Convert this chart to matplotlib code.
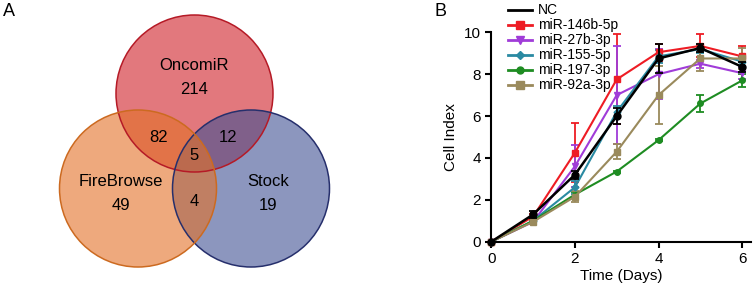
import numpy as np
import matplotlib.pyplot as plt
from matplotlib.patches import Circle
from matplotlib.lines import Line2D

plt.rcParams['font.family'] = ['Liberation Sans', 'DejaVu Sans']

# ---- Venn data (panel A) ----
set_names = ["OncomiR", "FireBrowse", "Stock"]
only_counts = [214, 49, 19]
pair_counts = {"onco_fire": 82, "onco_stock": 12, "fire_stock": 4}
triple_count = 5

# ---- growth curve data (panel B) ----
days = [0, 1, 2, 3, 4, 5, 6]
series_names = ["NC", "miR-146b-5p", "miR-27b-3p", "miR-155-5p", "miR-197-3p", "miR-92a-3p"]
nc_mean = [0, 1.3, 3.2, 6.0, 8.75, 9.25, 8.35]
nc_err = [0, 0.15, 0.2, 0.4, 0.7, 0.2, 0.25]
m146_mean = [0, 1.2, 4.25, 7.75, 9.05, 9.35, 8.85]
m146_err = [0, 0.1, 1.4, 2.15, 0.4, 0.55, 0.5]
m27_mean = [0, 0.95, 3.6, 7.0, 8.0, 8.5, 8.05]
m27_err = [0, 0.1, 1.0, 2.35, 1.2, 0.2, 0.3]
m155_mean = [0, 1.0, 2.6, 6.2, 8.85, 9.2, 8.6]
m155_err = [0, 0.1, 0.3, 0.3, 0.3, 0.2, 0.2]
m197_mean = [0, 1.0, 2.25, 3.35, 4.85, 6.6, 7.7]
m197_err = [0, 0.05, 0.1, 0.05, 0.05, 0.4, 0.3]
m92_mean = [0, 0.95, 2.15, 4.3, 7.0, 8.75, 8.75]
m92_err = [0, 0.05, 0.25, 0.35, 1.4, 0.6, 0.5]

fig = plt.figure(figsize=(7.56, 2.91), dpi=100)

# ============================
# Panel A: Venn
# ============================
ax_v = fig.add_axes([0, 0, 380 / 756, 1])
ax_v.set_xlim(0, 380)
ax_v.set_ylim(291, 0)
ax_v.axis("off")

# draw order red -> blue -> orange gives the overlap tints of the original
circles = [
    ((194.5, 93.5), "#cf1e26", "#b51a26"),
    ((251, 188.5), "#3f5093", "#262f6c"),
    ((138, 188.5), "#e37126", "#cc6a20"),
]
for (cx, cy), fc, ec in circles:
    ax_v.add_patch(Circle((cx, cy), 78.5, facecolor=fc, alpha=0.6, edgecolor="none"))
for (cx, cy), fc, ec in circles:
    ax_v.add_patch(Circle((cx, cy), 78.5, facecolor="none", edgecolor=ec, lw=1.1))

fs = 12
ax_v.text(194, 66, set_names[0], ha="center", va="center", fontsize=fs)
ax_v.text(194, 90, str(only_counts[0]), ha="center", va="center", fontsize=fs)
ax_v.text(121, 181, set_names[1], ha="center", va="center", fontsize=fs)
ax_v.text(121, 206, str(only_counts[1]), ha="center", va="center", fontsize=fs)
ax_v.text(268, 181, set_names[2], ha="center", va="center", fontsize=fs)
ax_v.text(268, 206, str(only_counts[2]), ha="center", va="center", fontsize=fs)
ax_v.text(159, 138, str(pair_counts["onco_fire"]), ha="center", va="center", fontsize=fs)
ax_v.text(228, 138, str(pair_counts["onco_stock"]), ha="center", va="center", fontsize=fs)
ax_v.text(194, 201, str(pair_counts["fire_stock"]), ha="center", va="center", fontsize=fs)
ax_v.text(194, 156, str(triple_count), ha="center", va="center", fontsize=fs)
fig.text(3 / 756, 1 - 12 / 291, "A", fontsize=13, va="center")

# ============================
# Panel B: growth curves
# ============================
ax = fig.add_axes([491.3 / 756, 1 - 241.7 / 291, 259.2 / 756, 209.4 / 291])

styles = [
    (m146_mean, m146_err, "#ee1c24", "s", 5),
    (m27_mean, m27_err, "#a03cd8", "v", 5),
    (m155_mean, m155_err, "#2a8aa2", "D", 3.5),
    (m197_mean, m197_err, "#1e8c22", "o", 4),
    (m92_mean, m92_err, "#9a8a5c", "s", 5),
]
handles = [Line2D([0], [0], color="black", lw=2)]
for mean, err, c, mk, ms in styles:
    ax.errorbar(days, mean, yerr=err, color=c, marker=mk, ms=ms, lw=1.5,
                capsize=3, elinewidth=1.3, capthick=1.3, clip_on=False)
    handles.append(Line2D([0], [0], color=c, marker=mk, ms=ms + 1, lw=2))
ax.errorbar(days, nc_mean, yerr=nc_err, color="black", marker="o", ms=5, lw=1.8,
            capsize=3, elinewidth=1.3, capthick=1.3, clip_on=False, zorder=5)

ax.set_xlim(0, 6.2)
ax.set_ylim(0, 10)
ax.set_xticks([0, 2, 4, 6])
ax.set_yticks([0, 2, 4, 6, 8, 10])
ax.spines["top"].set_visible(False)
ax.spines["right"].set_visible(False)
for s in ["left", "bottom"]:
    ax.spines[s].set_linewidth(1.5)
ax.tick_params(width=1.5, length=4, labelsize=11)
ax.set_xlabel("Time (Days)", fontsize=11, labelpad=2)
ax.set_ylabel("Cell Index", fontsize=11, labelpad=4)

fig.legend(handles, series_names, loc="upper left",
           bbox_to_anchor=(508 / 756, 1 - 3.5 / 291), frameon=False,
           fontsize=10, handlelength=1.75, labelspacing=0.07,
           borderaxespad=0, borderpad=0, handletextpad=0.4)

fig.text(434 / 756, 1 - 12 / 291, "B", fontsize=13, va="center")

fig.savefig("out.png", dpi=100)
